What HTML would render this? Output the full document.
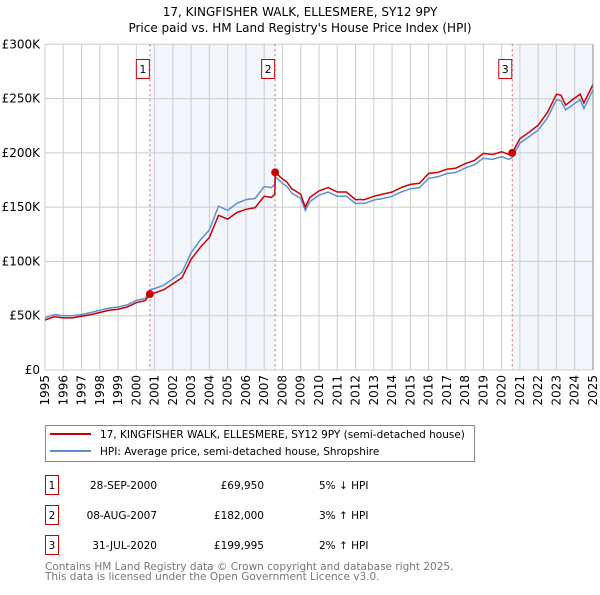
<!DOCTYPE html>
<html><head><meta charset="utf-8"><style>
body{margin:0;background:#fff;}
svg text{font-family:"DejaVu Sans","Liberation Sans",sans-serif;}
</style></head><body>
<svg width="600" height="590" xmlns="http://www.w3.org/2000/svg">
<g id="g"></g>
</svg>
<script>
const years=[1995,1996,1997,1998,1999,2000,2001,2002,2003,2004,2005,2006,2007,2008,2009,2010,2011,2012,2013,2014,2015,2016,2017,2018,2019,2020,2021,2022,2023,2024,2025];
const yTicks=[0,50,100,150,200,250,300];
const yTickLabels=["£0","£50K","£100K","£150K","£200K","£250K","£300K"];
const times=[1995.0,1995.5,1996,1996.5,1997,1997.5,1998,1998.5,1999,1999.5,2000,2000.5,2000.74,2001,2001.5,2002,2002.5,2003,2003.5,2004,2004.5,2005,2005.5,2006,2006.5,2007,2007.4,2007.58,2007.6,2008,2008.25,2008.5,2009,2009.25,2009.5,2010,2010.5,2011,2011.5,2012,2012.5,2013,2013.5,2014,2014.5,2015,2015.5,2016,2016.5,2017,2017.5,2018,2018.5,2019,2019.5,2020,2020.4,2020.58,2021,2021.5,2022,2022.5,2023,2023.25,2023.5,2024,2024.3,2024.5,2025];
const hpi=[48,51,50,50,51,53,55,57,58,60,64,66,74,75,78,84,90,108,119.7,129,151,147,153.5,157,158,169,168,171,178,172,169,163,158,147,155,161,164,160,160,153.5,153.5,156.6,158,160,164,167,168,176.5,178,181,182,186,189,195,194,196.5,194,196,209,215,221,232,249,248,239.5,245.6,249,241,258];
const price=[46,49,48,48,49.5,51,53,55,56,58,62,64,70,71,74,79.5,85,102,113,122,142.5,139,145,148,149.5,160,159,162,182,176,173,167,162,150,159,165,168,164,164,157,157,160,162,164,168,171,172,181,182,185,186,190,193,199.5,198.5,201,198.5,200,213,219,225.5,237,254,253,244,250.5,254,246,263];
const saleTimes=[2000.74,2007.6,2020.58];
const saleValues=[69.95,182,199.995];
const saleLabels=["1","2","3"];
const saleDates=["28-SEP-2000","08-AUG-2007","31-JUL-2020"];
const salePrices=["£69,950","£182,000","£199,995"];
const saleHpi=["5% ↓ HPI","3% ↑ HPI","2% ↑ HPI"];

const X0=45,X1=593,Y0=370,Y1=44.3;
const x=t=>X0+(t-1995)/30*(X1-X0);
const y=v=>Y0-v/300*(Y0-Y1);
const NS="http://www.w3.org/2000/svg";
const g=document.getElementById('g');
function mk(tag,at,txt){const e=document.createElementNS(NS,tag);for(const k in at)e.setAttribute(k,at[k]);if(txt!=null)e.textContent=txt;g.appendChild(e);return e;}

let s1=mk('rect',{x:x(saleTimes[0]),y:Y1,width:x(saleTimes[1])-x(saleTimes[0]),height:Y0-Y1,fill:'#f3f6fd'});


let s2=mk('rect',{x:x(saleTimes[2]),y:Y1,width:X1-x(saleTimes[2]),height:Y0-Y1,fill:'#f3f6fd'});


years.forEach(yr=>{let l=mk('line',{x1:x(yr),x2:x(yr),y1:Y1,y2:Y0,stroke:'#cccccc','stroke-width':1});


let t=mk('text',{x:0,y:0,'font-size':12,fill:'#000','text-anchor':'end',transform:`translate(${x(yr)+4},375) rotate(-90)`},String(yr));

});
yTicks.forEach((v,i)=>{let l=mk('line',{x1:X0,x2:X1,y1:y(v),y2:y(v),stroke:'#cccccc','stroke-width':1});


let t=mk('text',{x:40,y:y(v)+4,'font-size':12,'text-anchor':'end',fill:'#000'},yTickLabels[i]);

});
saleTimes.forEach((st,i)=>{let l=mk('line',{x1:x(st),x2:x(st),y1:Y1,y2:Y0,stroke:'#e06060','stroke-width':1,'stroke-dasharray':'2,3'});


let r=mk('rect',{x:x(st)-13.5,y:59.5,width:13,height:19,fill:'#fff',stroke:'#cc0000'});


let t=mk('text',{x:x(st)-7,y:73,'font-size':11,'text-anchor':'middle'},saleLabels[i]);

});
const pts=a=>a.map((v,i)=>x(times[i]).toFixed(1)+','+y(v).toFixed(1)).join(' ');
let lb=mk('polyline',{points:pts(hpi),fill:'none',stroke:'#5b8fd4','stroke-width':1.5});


let lr=mk('polyline',{points:pts(price),fill:'none',stroke:'#cc0000','stroke-width':1.5});


saleTimes.forEach((st,i)=>{let c=mk('circle',{cx:x(st),cy:y(saleValues[i]),r:4,fill:'#cc0000'});

});
let ra=mk('line',{x1:X1,x2:X1,y1:Y1,y2:Y0,stroke:'#888','stroke-width':1});


let t1=mk('text',{x:300,y:16,'font-size':12,'text-anchor':'middle'},'17, KINGFISHER WALK, ELLESMERE, SY12 9PY');


let t2=mk('text',{x:300,y:32,'font-size':12,'text-anchor':'middle'},"Price paid vs. HM Land Registry's House Price Index (HPI)");


let lg=mk('rect',{x:45.5,y:425.5,width:429,height:36,fill:'#fff',stroke:'#888'});


let l1=mk('line',{x1:50,x2:91,y1:434,y2:434,stroke:'#cc0000','stroke-width':2});


let l2=mk('line',{x1:50,x2:91,y1:451,y2:451,stroke:'#5b8fd4','stroke-width':2});


let lt1=mk('text',{x:100,y:438,'font-size':10.5},'17, KINGFISHER WALK, ELLESMERE, SY12 9PY (semi-detached house)');


let lt2=mk('text',{x:100,y:455,'font-size':10.5},'HPI: Average price, semi-detached house, Shropshire');


saleLabels.forEach((lab,i)=>{const by=475+i*30;
let b=mk('rect',{x:45.5,y:by+0.5,width:13,height:19,fill:'#fff',stroke:'#cc0000'});


let n=mk('text',{x:52,y:by+14,'font-size':10.5,'text-anchor':'middle'},lab);


let d=mk('text',{x:157,y:by+14,'font-size':10.5,'text-anchor':'end'},saleDates[i]);


let p=mk('text',{x:264,y:by+14,'font-size':10.5,'text-anchor':'end'},salePrices[i]);


let h=mk('text',{x:319,y:by+14,'font-size':10.5},saleHpi[i]);

});
let f1=mk('text',{x:45,y:570,'font-size':10.5,fill:'#777'},'Contains HM Land Registry data © Crown copyright and database right 2025.');


let f2=mk('text',{x:45,y:580,'font-size':10.5,fill:'#777'},'This data is licensed under the Open Government Licence v3.0.');


</script>
</body></html>
